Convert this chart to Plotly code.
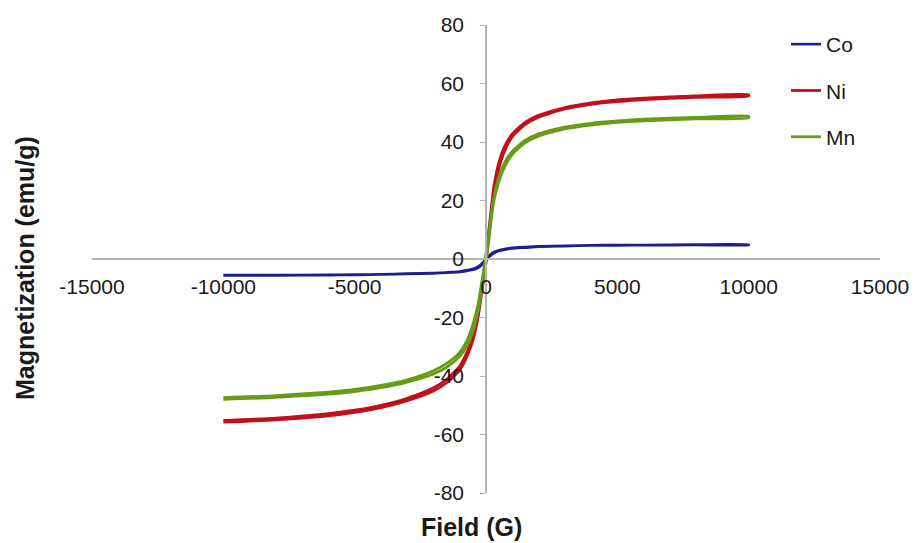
import plotly.graph_objects as go

# Applied field (G) sample points, from -10000 to +10000
field = [-10000, -8000, -6000, -5000, -4000, -3000, -2000, -1500, -1000, -700,
         -500, -300, -150, 0, 150, 300, 500, 700, 1000, 1500, 2000, 3000,
         4000, 5000, 6000, 8000, 10000]

# Magnetization (emu/g): ascending branch (field increasing) and
# descending branch (field decreasing), both listed in field order
ni_up = [-55.8, -55.0, -53.6, -52.4, -50.8, -48.4, -45.1, -42.3, -38.0, -32.8,
         -27.8, -19.8, -10.8, -1.2, 11.3, 22.8, 31.3, 36.8, 41.8, 46.0, 48.5,
         51.3, 52.9, 53.8, 54.5, 55.3, 55.7]
ni_down = [-55.2, -54.4, -52.9, -51.7, -50.0, -47.6, -44.0, -41.1, -36.6, -31.3,
           -25.8, -17.8, -8.3, 1.2, 13.3, 24.8, 33.3, 38.3, 42.8, 46.8, 49.1,
           51.8, 53.4, 54.4, 55.0, 55.8, 56.2]

mn_up = [-48.0, -47.3, -46.2, -45.3, -44.0, -42.1, -39.3, -37.0, -33.3, -29.3,
         -24.8, -17.8, -9.8, -1.2, 9.8, 19.8, 26.8, 31.3, 35.8, 39.8, 42.0,
         44.5, 45.8, 46.7, 47.2, 47.9, 48.3]
mn_down = [-47.4, -46.7, -45.5, -44.6, -43.2, -41.3, -38.2, -35.7, -31.9, -27.4,
           -22.4, -15.4, -7.4, 1.2, 11.8, 21.3, 28.3, 32.8, 36.8, 40.6, 42.8,
           45.1, 46.4, 47.2, 47.8, 48.4, 48.8]

co_up = [-5.6, -5.6, -5.5, -5.45, -5.3, -5.1, -4.9, -4.7, -4.4, -4.0,
         -3.7, -3.0, -2.0, -0.5, 1.0, 2.0, 2.8, 3.2, 3.6, 3.9, 4.2,
         4.4, 4.6, 4.65, 4.7, 4.8, 4.8]
co_down = [-5.5, -5.5, -5.4, -5.35, -5.2, -5.0, -4.8, -4.6, -4.3, -3.8,
           -3.4, -2.6, -1.5, 0.0, 1.4, 2.3, 3.0, 3.4, 3.8, 4.1, 4.35,
           4.55, 4.7, 4.75, 4.8, 4.9, 4.9]

x_ticks = [-15000, -10000, -5000, 0, 5000, 10000, 15000]
y_ticks = [-80, -60, -40, -20, 0, 20, 40, 60, 80]

samples = [
    ("Co", co_up, co_down, "#1d1d8c", 2.6),
    ("Ni", ni_up, ni_down, "#c0101c", 2.8),
    ("Mn", mn_up, mn_down, "#689c16", 2.8),
]

fig = go.Figure()
for name, up, down, color, width in samples:
    # closed hysteresis loop: up the ascending branch, back down the descending one
    fig.add_trace(go.Scatter(
        x=field + field[::-1],
        y=up + down[::-1],
        mode="lines",
        name=name,
        legendgroup=name,
        line=dict(color=color, width=width, shape="spline", smoothing=0.6),
    ))

font_family = "Liberation Sans, Arial, sans-serif"
axis_grey = "#b4b4b4"

fig.update_layout(
    width=915,
    height=543,
    paper_bgcolor="white",
    plot_bgcolor="white",
    margin=dict(l=92, r=35, t=25, b=50, autoexpand=False),
    font=dict(family=font_family, size=21, color="#1a1a1a"),
    showlegend=True,
    legend=dict(
        xref="paper", yref="paper",
        x=(786 - 92) / 788, y=(493 - 24) / 468, xanchor="left", yanchor="top",
        font=dict(size=21, color="#1a1a1a"),
        tracegroupgap=16,
        bgcolor="rgba(0,0,0,0)",
        itemwidth=30,
    ),
    xaxis=dict(
        range=[-15000, 15000],
        tickvals=x_ticks,
        ticktext=[str(v) for v in x_ticks],
        anchor="free", position=0.5,
        showline=True, linecolor=axis_grey, linewidth=1.5,
        showgrid=False, zeroline=False,
        ticks="", ticklabelstandoff=9,
        tickfont=dict(size=21),
    ),
    yaxis=dict(
        range=[-80, 80],
        tickvals=y_ticks,
        ticktext=[str(v) for v in y_ticks],
        anchor="free", position=0.5,
        showline=True, linecolor=axis_grey, linewidth=1.5,
        showgrid=False, zeroline=False,
        ticks="outside", ticklen=5, tickcolor=axis_grey,
        ticklabelstandoff=12,
        tickfont=dict(size=21),
    ),
    annotations=[
        dict(text="<b>Field (G)</b>", xref="paper", yref="paper",
             x=(471 - 92) / 788, y=-0.072, xanchor="center", yanchor="middle",
             showarrow=False, font=dict(size=25, color="#1a1a1a")),
        dict(text="<b>Magnetization (emu/g)</b>", xref="paper", yref="paper",
             x=(25 - 92) / 788, y=(493 - 268) / 468, xanchor="center",
             yanchor="middle", textangle=-90,
             showarrow=False, font=dict(size=25, color="#1a1a1a")),
    ],
)

fig.write_html("out.html")
